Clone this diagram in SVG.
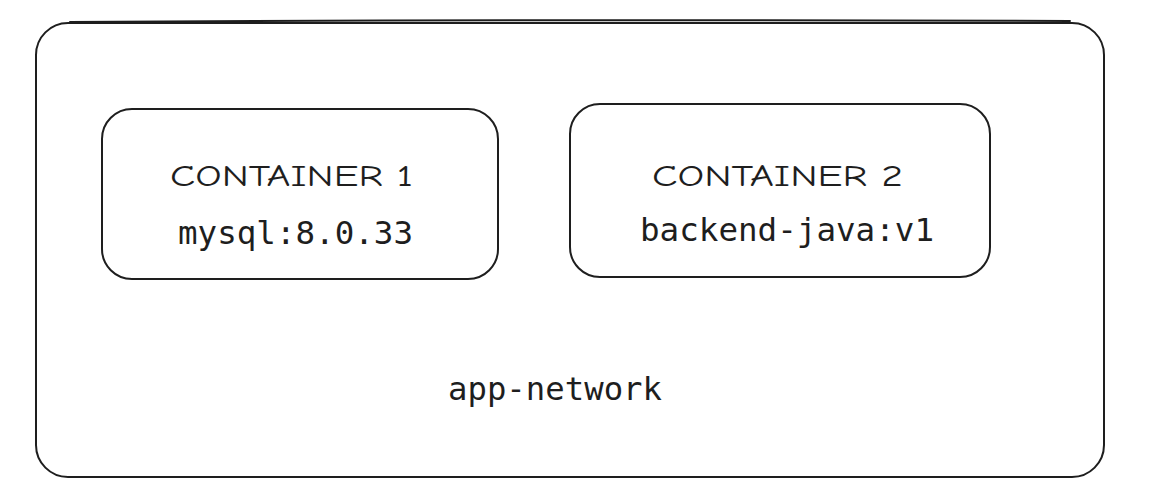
<svg xmlns="http://www.w3.org/2000/svg" width="1158" height="499" viewBox="0 0 1158 499">
<style>
.box{fill:none;stroke:#1e1e1e;stroke-width:2;stroke-linecap:round}
.hand{font-family:"Comic Neue","Liberation Sans",sans-serif;font-size:30px;fill:#1e1e1e}
.mono{font-family:"DejaVu Sans Mono","Liberation Mono",monospace;font-size:32px;fill:#1e1e1e}
</style>
<rect width="1158" height="499" fill="#ffffff"/>
<g id="app-network">
<rect class="box" x="36" y="23" width="1068" height="454" rx="32"/>
<path class="box" d="M70 22 Q580 19 1070 21" stroke-width="1"/>
<text class="mono" x="448" y="400" textLength="214" lengthAdjust="spacingAndGlyphs">app-network</text>
</g>
<g id="container1">
<rect class="box" x="102" y="109" width="396" height="170" rx="30"/>
<text class="hand" x="170" y="186" textLength="243" lengthAdjust="spacingAndGlyphs">CONTAINER 1</text>
<text class="mono" x="178" y="244" textLength="235" lengthAdjust="spacingAndGlyphs">mysql:8.0.33</text>
</g>
<g id="container2">
<rect class="box" x="570" y="104" width="420" height="173" rx="30"/>
<text class="hand" x="652" y="186" textLength="251" lengthAdjust="spacingAndGlyphs">CONTAINER 2</text>
<text class="mono" x="640" y="241" textLength="294" lengthAdjust="spacingAndGlyphs">backend-java:v1</text>
</g>
<g id="connectors"></g>
</svg>
